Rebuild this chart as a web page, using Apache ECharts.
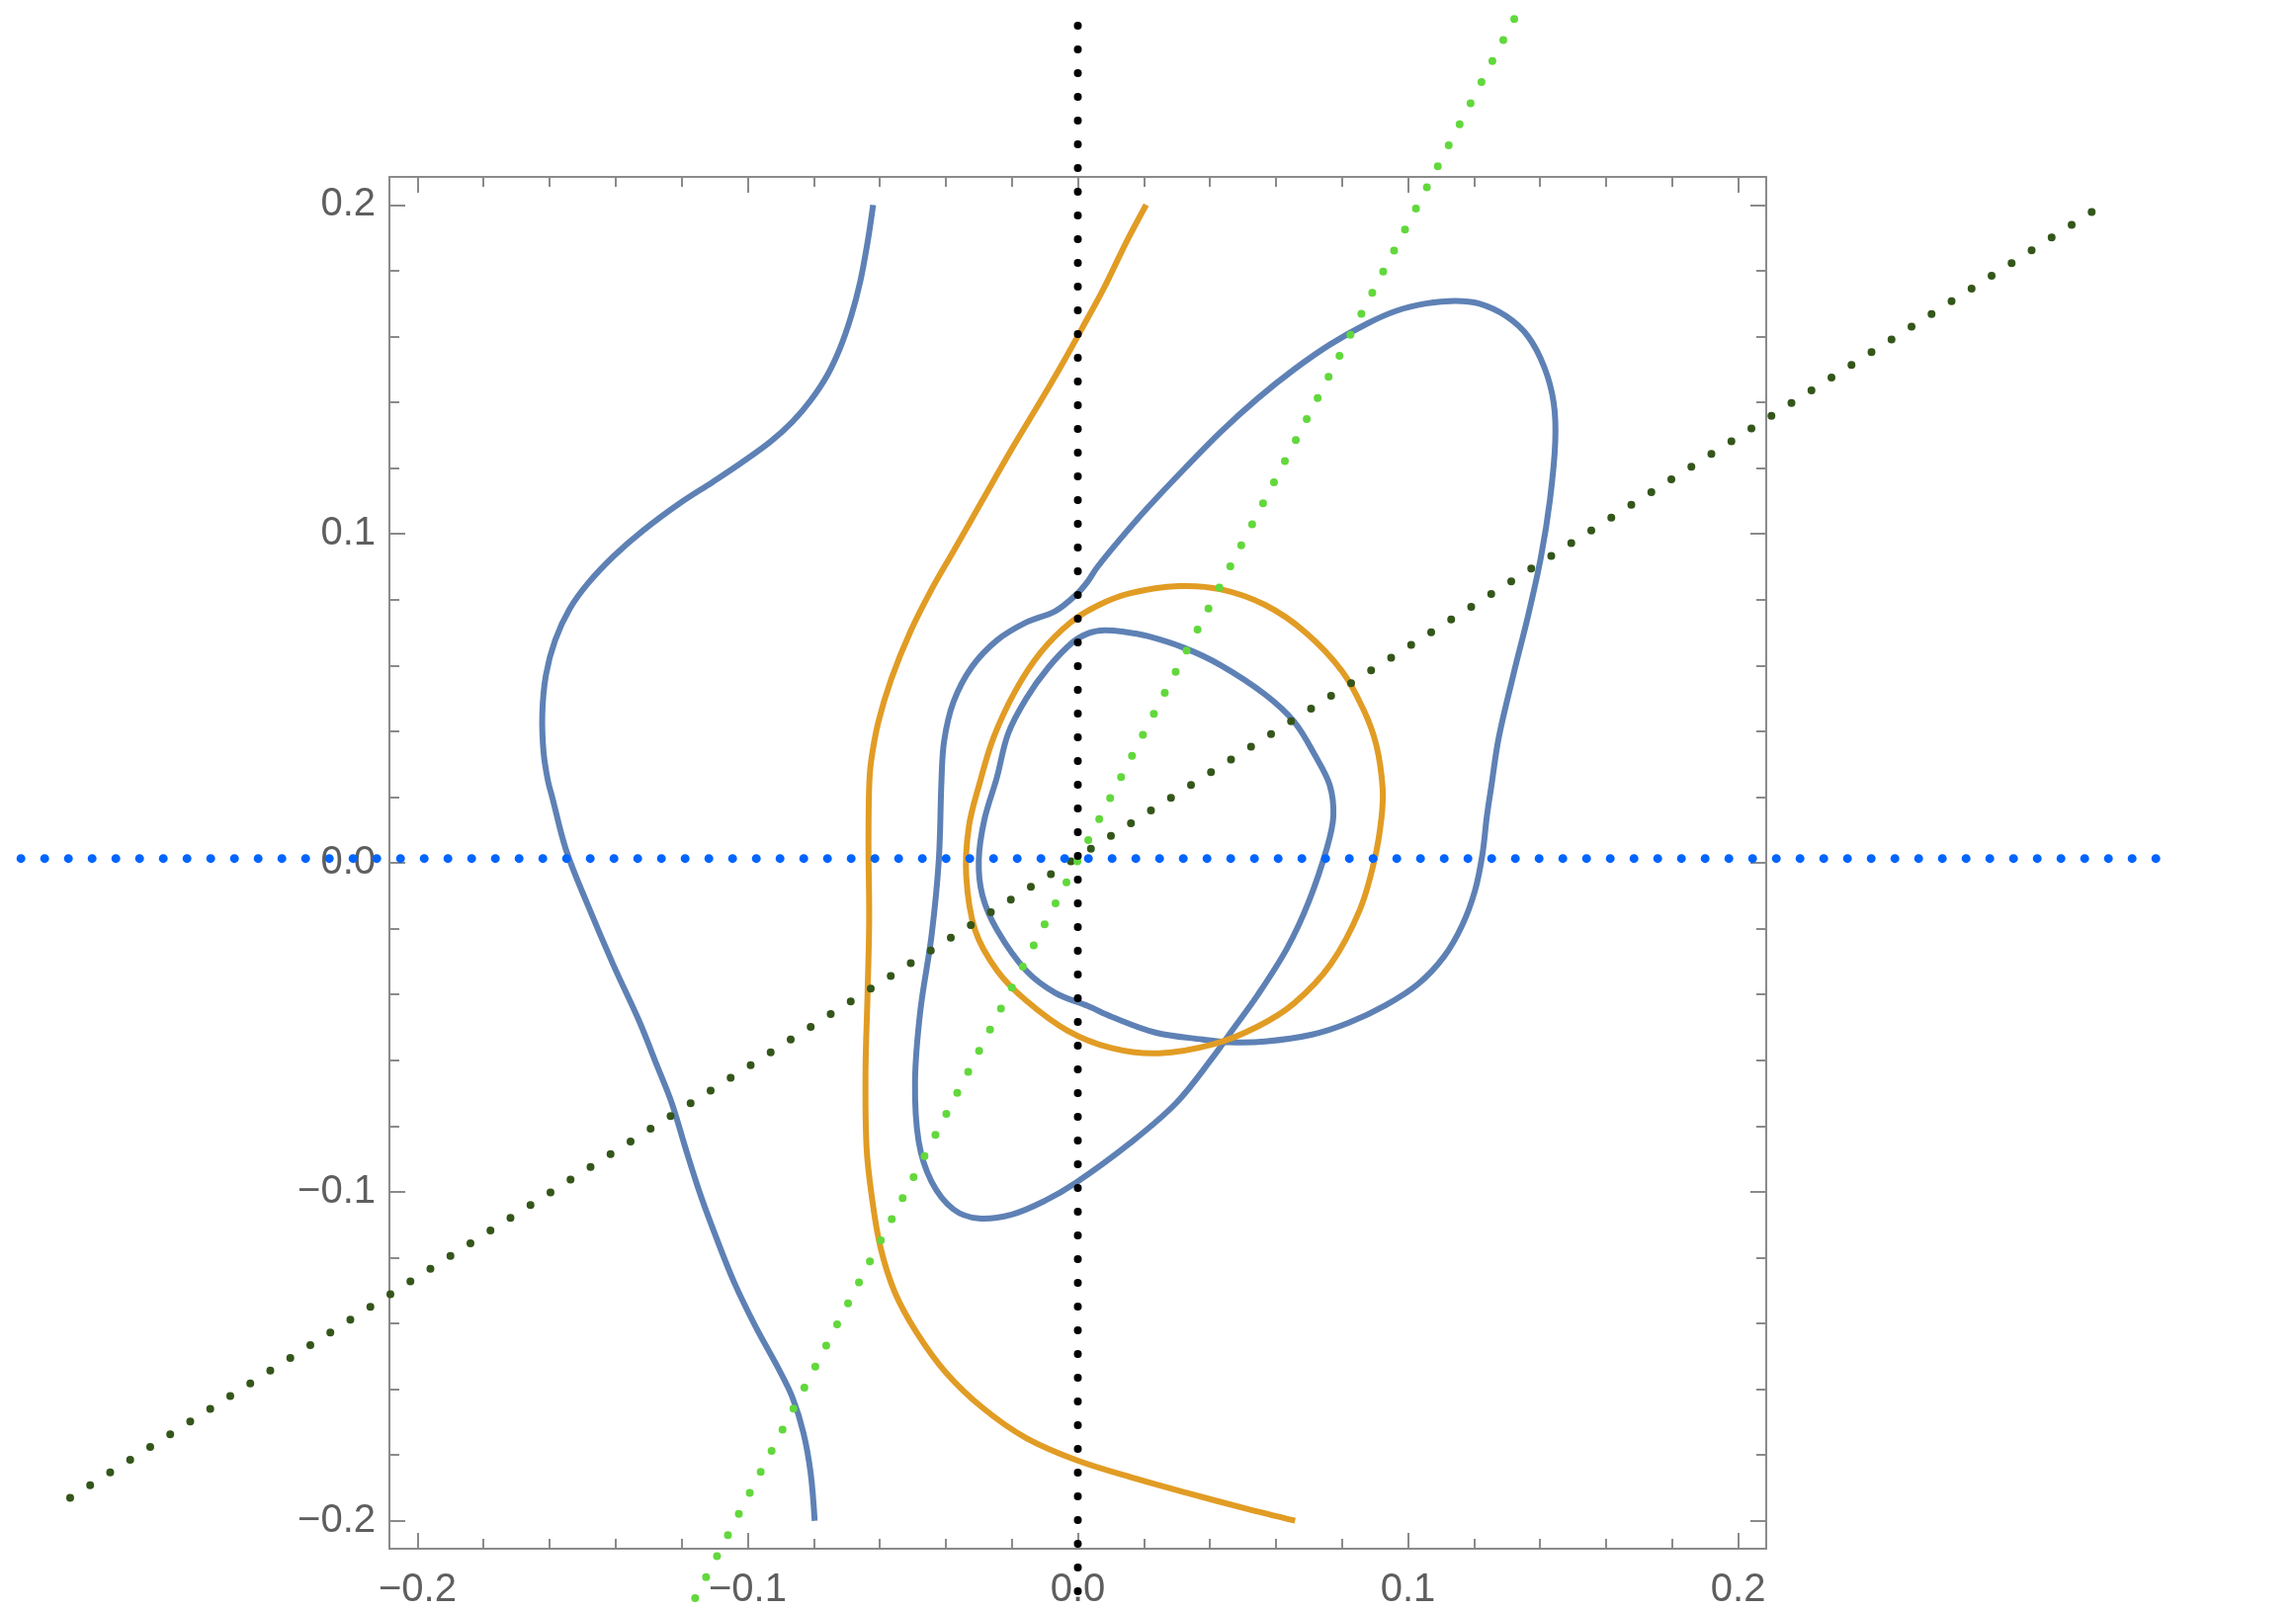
<!DOCTYPE html>
<html>
<head>
<meta charset="utf-8">
<title>contours</title>
<script src="https://cdn.jsdelivr.net/npm/echarts@6/dist/echarts.min.js"></script>
<style>
  html, body { margin: 0; padding: 0; background: #fff; }
  #chart { width: 2323px; height: 1629px; }
</style>
</head>
<body>
<div id="chart"></div>
<script>
// frame range (a bit wider than +-0.2, like the reference)
const xRange = [-0.2085, 0.2085]
const yRange = [-0.2085, 0.2085]

// ticks + labels
const majorTicks = [-0.2, -0.1, 0, 0.1, 0.2]
const minorTicks = [-0.18, -0.16, -0.14, -0.12, -0.08, -0.06, -0.04, -0.02,
  0.02, 0.04, 0.06, 0.08, 0.12, 0.14, 0.16, 0.18]
const tickLabels = ['\u22120.2', '\u22120.1', '0.0', '0.1', '0.2']

// blue contour, left open branch (top -> bottom)
const blueLeft = [
  [-0.0620, 0.2000], [-0.0637, 0.1885], [-0.0659, 0.1767], [-0.0687, 0.1660], [-0.0720, 0.1565],
  [-0.0759, 0.1482], [-0.0809, 0.1406], [-0.0864, 0.1341], [-0.0930, 0.1281], [-0.1019, 0.1216],
  [-0.1107, 0.1157], [-0.1207, 0.1092], [-0.1318, 0.1009], [-0.1406, 0.0932], [-0.1484, 0.0849],
  [-0.1539, 0.0772], [-0.1583, 0.0677], [-0.1611, 0.0571], [-0.1622, 0.0452], [-0.1618, 0.0334],
  [-0.1605, 0.0250], [-0.1592, 0.0200], [-0.1550, 0.0039], [-0.1484, -0.0129], [-0.1406, -0.0312],
  [-0.1329, -0.0480], [-0.1274, -0.0618], [-0.1229, -0.0733], [-0.1185, -0.0878], [-0.1141, -0.1015],
  [-0.1096, -0.1137], [-0.1041, -0.1275], [-0.0975, -0.1412], [-0.0908, -0.1535], [-0.0864, -0.1626],
  [-0.0831, -0.1733], [-0.0809, -0.1856], [-0.0797, -0.2000]
]

// blue contour, closed loop with self crossing
const blueLoop = [
  [0.0030, 0.0855], [-0.0001, 0.0819], [-0.0067, 0.0766], [-0.0156, 0.0731], [-0.0244, 0.0677],
  [-0.0322, 0.0594], [-0.0377, 0.0488], [-0.0405, 0.0370], [-0.0413, 0.0250], [-0.0421, 0.0009],
  [-0.0443, -0.0221], [-0.0477, -0.0450], [-0.0493, -0.0664], [-0.0482, -0.0847], [-0.0443, -0.0969],
  [-0.0377, -0.1053], [-0.0300, -0.1081], [-0.0200, -0.1069], [-0.0101, -0.1028], [-0.0005, -0.0972],
  [0.0157, -0.0853], [0.0298, -0.0730], [0.0412, -0.0587], [0.0467, -0.0510], [0.0544, -0.0403],
  [0.0633, -0.0261], [0.0699, -0.0119], [0.0755, 0.0047], [0.0774, 0.0142], [0.0763, 0.0236],
  [0.0721, 0.0322], [0.0655, 0.0429], [0.0567, 0.0512], [0.0434, 0.0600], [0.0323, 0.0653],
  [0.0212, 0.0689], [0.0135, 0.0703], [0.0080, 0.0707], [0.0035, 0.0699], [-0.0015, 0.0671],
  [-0.0089, 0.0594], [-0.0156, 0.0500], [-0.0211, 0.0393], [-0.0245, 0.0260], [-0.0283, 0.0131],
  [-0.0300, 0.0009], [-0.0289, -0.0099], [-0.0244, -0.0205], [-0.0156, -0.0328], [-0.0067, -0.0396],
  [0.0030, -0.0435], [0.0102, -0.0468], [0.0235, -0.0516], [0.0378, -0.0537], [0.0456, -0.0545],
  [0.0567, -0.0543], [0.0710, -0.0522], [0.0821, -0.0486], [0.0932, -0.0433], [0.1031, -0.0368],
  [0.1109, -0.0285], [0.1164, -0.0190], [0.1203, -0.0084], [0.1225, 0.0023], [0.1239, 0.0142],
  [0.1252, 0.0230], [0.1275, 0.0381], [0.1319, 0.0571], [0.1363, 0.0748], [0.1402, 0.0926],
  [0.1430, 0.1104], [0.1446, 0.1281], [0.1441, 0.1400], [0.1413, 0.1506], [0.1363, 0.1601],
  [0.1297, 0.1662], [0.1215, 0.1700], [0.1142, 0.1708], [0.1054, 0.1700], [0.0965, 0.1678],
  [0.0876, 0.1639], [0.0766, 0.1577], [0.0655, 0.1500], [0.0544, 0.1411], [0.0434, 0.1311],
  [0.0323, 0.1198], [0.0212, 0.1080], [0.0124, 0.0979], [0.0057, 0.0896]
]

// orange contour, open branch (top -> bottom)
const orangeLeft = [
  [0.0207, 0.2000], [0.0146, 0.1885], [0.0080, 0.1749], [0.0013, 0.1625], [-0.0048, 0.1515],
  [-0.0112, 0.1405], [-0.0200, 0.1258], [-0.0290, 0.1100], [-0.0378, 0.0945], [-0.0443, 0.0831],
  [-0.0508, 0.0701], [-0.0565, 0.0559], [-0.0604, 0.0429], [-0.0626, 0.0310], [-0.0632, 0.0230],
  [-0.0634, 0.0055], [-0.0632, -0.0175], [-0.0637, -0.0404], [-0.0643, -0.0633], [-0.0640, -0.0863],
  [-0.0624, -0.1015], [-0.0598, -0.1168], [-0.0554, -0.1306], [-0.0488, -0.1428], [-0.0399, -0.1550],
  [-0.0288, -0.1657], [-0.0156, -0.1749], [-0.0001, -0.1817], [0.0179, -0.1873], [0.0329, -0.1915],
  [0.0509, -0.1963], [0.0658, -0.2000]
]

// orange contour, closed loop
const orangeLoop = [
  [0.0306, 0.0841], [0.0434, 0.0831], [0.0567, 0.0784], [0.0689, 0.0701], [0.0800, 0.0583],
  [0.0866, 0.0464], [0.0904, 0.0358], [0.0923, 0.0230], [0.0920, 0.0140], [0.0899, 0.0011],
  [0.0854, -0.0143], [0.0766, -0.0308], [0.0655, -0.0427], [0.0544, -0.0498], [0.0412, -0.0551],
  [0.0246, -0.0579], [0.0102, -0.0563], [-0.0031, -0.0510], [-0.0156, -0.0419], [-0.0244, -0.0328],
  [-0.0311, -0.0205], [-0.0338, -0.0040], [-0.0330, 0.0110], [-0.0298, 0.0240], [-0.0255, 0.0381],
  [-0.0189, 0.0523], [-0.0112, 0.0640], [-0.0023, 0.0730], [0.0060, 0.0782], [0.0157, 0.0819]
]

// dotted reference lines (they run past the frame)
const blackLine = [[0, -0.2202], [0, 0.2553]]
const blueLine = [[-0.3201, 0.0019], [0.3267, 0.0019]]
const greenLine = [[-0.1159, -0.2223], [0.1325, 0.2570]]
const darkGreenLine = [[-0.3052, -0.1919], [0.3078, 0.1983]]

const W = 2323
const H = 1629
const plot = { left: 394, top: 179, width: 1393, height: 1392 }

// second grid over the whole page, same scale, so the dotted lines can run outside the frame
const kx = plot.width / (xRange[1] - xRange[0])
const ky = plot.height / (yRange[1] - yRange[0])
const xFull = [xRange[0] - plot.left / kx, xRange[0] - plot.left / kx + W / kx]
const yFull = [yRange[1] + plot.top / ky - H / ky, yRange[1] + plot.top / ky]

const frameColor = '#8a8a8a'
const labelColor = '#5e5e5e'

function fmt(v) {
  const i = majorTicks.findIndex(t => Math.abs(t - v) < 1e-9)
  return i >= 0 ? tickLabels[i] : ''
}

// one axis per side for major ticks (+labels, frame line), one more for minor ticks
function makeAxis(position, range, ticks, len, main, labels) {
  return {
    type: 'value',
    gridIndex: 0,
    position: position,
    min: range[0],
    max: range[1],
    axisLine: { show: main, onZero: false, lineStyle: { color: frameColor, width: 2 } },
    axisTick: { show: true, inside: true, length: len, customValues: ticks,
      lineStyle: { color: frameColor, width: 2 } },
    axisLabel: {
      show: labels,
      customValues: ticks,
      formatter: fmt,
      color: labelColor,
      fontSize: 40,
      fontFamily: 'Liberation Sans, Arial, sans-serif',
      margin: position === 'bottom' ? 22 : 14
    },
    splitLine: { show: false }
  }
}

function hiddenAxis(range) {
  return { type: 'value', gridIndex: 1, min: range[0], max: range[1], show: false }
}

// contour line: points go through the axes (api.coord), drawn as one smooth path
function curve(points, color, closed) {
  return {
    type: 'custom',
    coordinateSystem: 'cartesian2d',
    xAxisIndex: 0,
    yAxisIndex: 0,
    data: points,
    clip: false,
    z: 3,
    renderItem: function (params, api) {
      if (params.dataIndex !== 0) return null
      const pts = points.map(p => api.coord(p))
      return {
        type: closed ? 'polygon' : 'polyline',
        shape: { points: pts, smooth: 0.35 },
        style: { fill: null, stroke: color, lineWidth: 6, lineJoin: 'round', lineCap: 'butt' }
      }
    }
  }
}

function dots(data, color, size) {
  return {
    type: 'line',
    xAxisIndex: 4,
    yAxisIndex: 4,
    data: data,
    showSymbol: false,
    clip: false,
    lineStyle: { color: color, width: size, type: [0, 24], cap: 'round' },
    z: 4
  }
}

const chart = echarts.init(document.getElementById('chart'), null, { renderer: 'canvas' })
chart.setOption({
  animation: false,
  backgroundColor: '#ffffff',
  grid: [
    plot,
    { left: 0, top: 0, width: W, height: H }
  ],
  xAxis: [
    makeAxis('bottom', xRange, majorTicks, 16, true, true),
    makeAxis('bottom', xRange, minorTicks, 10, false, false),
    makeAxis('top', xRange, majorTicks, 16, true, false),
    makeAxis('top', xRange, minorTicks, 10, false, false),
    hiddenAxis(xFull)
  ],
  yAxis: [
    makeAxis('left', yRange, majorTicks, 16, true, true),
    makeAxis('left', yRange, minorTicks, 10, false, false),
    makeAxis('right', yRange, majorTicks, 16, true, false),
    makeAxis('right', yRange, minorTicks, 10, false, false),
    hiddenAxis(yFull)
  ],
  series: [
    curve(blueLeft, '#5e81b5', false),
    curve(blueLoop, '#5e81b5', true),
    curve(orangeLeft, '#e19c24', false),
    curve(orangeLoop, '#e19c24', true),
    dots(darkGreenLine, '#34561a', 8),
    dots(greenLine, '#62d83c', 8),
    dots(blackLine, '#000000', 8),
    dots(blueLine, '#0064ff', 9)
  ]
})
</script>
</body>
</html>
